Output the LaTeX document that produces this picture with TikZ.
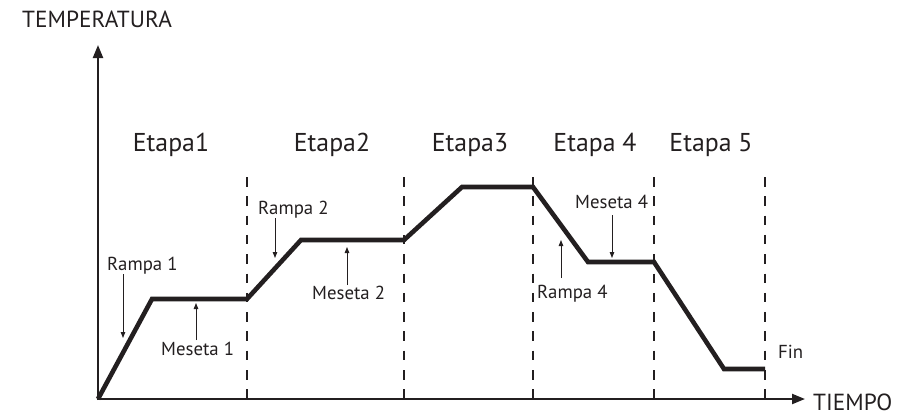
\documentclass[tikz,border=0pt]{standalone}
\usepackage{fontspec}
\setmainfont{PT Sans}
\usetikzlibrary{arrows.meta}
\definecolor{ink}{HTML}{231F20}
\tikzset{
  axisline/.style={line width=2.2pt, draw=ink, -{Triangle[length=13pt,width=10pt]}},
  profile/.style={line width=4.6pt, draw=ink, line join=miter},
  stageline/.style={line width=1.1pt, draw=ink, dash pattern=on 9.5pt off 9.8pt},
  callout/.style={line width=0.9pt, draw=ink, -{Triangle[length=6pt,width=4.5pt]}},
  axislabel/.style={inner sep=0pt, anchor=base west, text=ink, font=\fontsize{23.3}{27}\selectfont},
  stagelabel/.style={inner sep=0pt, anchor=base, text=ink, font=\fontsize{25.8}{29}\selectfont},
  smalllabel/.style={inner sep=0pt, anchor=base west, text=ink, font=\fontsize{18.8}{22}\selectfont},
}
\begin{document}
\begin{tikzpicture}[x=1pt,y=-1pt]
\useasboundingbox (0,0) rectangle (911,416);
% axes
\coordinate (o) at (97,399);
\coordinate (ytip) at (98,45);
\coordinate (xtip) at (805,399);
\draw[axisline] (98,400) -- (ytip);
\draw[axisline] (o) -- (xtip);
\node[axislabel] (ylab) at (22,27) {TEMPERATURA};
\node[axislabel] (xlab) at (813,410) {TIEMPO};
% stage boundaries
\foreach \n/\x in {1/247,2/404,3/533,4/654,5/765}{
  \coordinate (t\n) at (\x,177);
  \coordinate (b\n) at (\x,399);
  \draw[stageline] (t\n) -- (b\n);
}
% stage labels
\node[stagelabel] (e1) at (171,151) {Etapa1};
\node[stagelabel] (e2) at (332,151) {Etapa2};
\node[stagelabel] (e3) at (470,151) {Etapa3};
\node[stagelabel] (e4) at (595,151) {Etapa 4};
\node[stagelabel] (e5) at (711,151) {Etapa 5};
% temperature profile
\coordinate (p0) at (98,399);
\coordinate (p1) at (152,299);
\coordinate (p2) at (247,299);
\coordinate (p3) at (301,240);
\coordinate (p4) at (404,240);
\coordinate (p5) at (462,187);
\coordinate (p6) at (533,187);
\coordinate (p7) at (588,262);
\coordinate (p8) at (654,262);
\coordinate (p9) at (724,369);
\coordinate (p10) at (765,369);
\draw[profile] (p0) -- (p1) -- (p2) -- (p3) -- (p4) -- (p5) -- (p6) -- (p7) -- (p8) -- (p9) -- (p10);
% callouts
\node[smalllabel] (r1) at (107,270) {Rampa 1};
\coordinate (r1a) at (123,274);
\coordinate (r1b) at (123,338);
\draw[callout] (r1a) -- (r1b);
\node[smalllabel] (m1) at (161,355) {Meseta 1};
\coordinate (m1a) at (196,340);
\coordinate (m1b) at (196,303);
\draw[callout] (m1a) -- (m1b);
\node[smalllabel] (r2) at (258,214) {Rampa 2};
\coordinate (r2a) at (275,218);
\coordinate (r2b) at (275,258);
\draw[callout] (r2a) -- (r2b);
\node[smalllabel] (m2) at (312,299) {Meseta 2};
\coordinate (m2a) at (347,285);
\coordinate (m2b) at (347,247);
\draw[callout] (m2a) -- (m2b);
\node[smalllabel] (m4) at (575,208) {Meseta 4};
\coordinate (m4a) at (612,215);
\coordinate (m4b) at (612,258);
\draw[callout] (m4a) -- (m4b);
\node[smalllabel] (r4) at (537,298) {Rampa 4};
\coordinate (r4a) at (561,278);
\coordinate (r4b) at (561,240);
\draw[callout] (r4a) -- (r4b);
\node[smalllabel] (fin) at (778,358) {Fin};
\end{tikzpicture}
\end{document}
